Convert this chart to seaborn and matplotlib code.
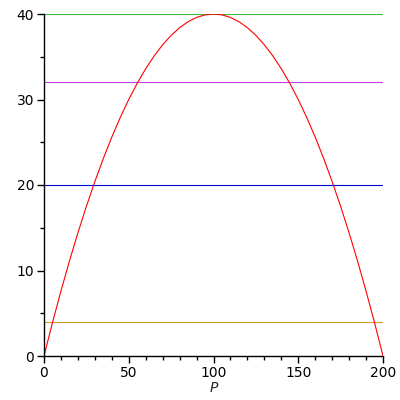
import matplotlib
matplotlib.use('Agg')
import matplotlib.pyplot as plt
import seaborn as sns
import pandas as pd
from matplotlib.ticker import MultipleLocator

# curve values
p_vals = [0, 5, 10, 15, 20, 25, 30, 35, 40, 45, 50, 55, 60, 65, 70, 75, 80, 85, 90, 95, 100,
          105, 110, 115, 120, 125, 130, 135, 140, 145, 150, 155, 160, 165, 170, 175, 180, 185, 190, 195, 200]
y_vals = [0, 3.9, 7.6, 11.1, 14.4, 17.5, 20.4, 23.1, 25.6, 27.9, 30, 31.9, 33.6, 35.1, 36.4, 37.5, 38.4, 39.1, 39.6, 39.9, 40,
          39.9, 39.6, 39.1, 38.4, 37.5, 36.4, 35.1, 33.6, 31.9, 30, 27.9, 25.6, 23.1, 20.4, 17.5, 14.4, 11.1, 7.6, 3.9, 0]

# horizontal reference levels
levels = [40, 32, 20, 4]
level_colors = ['#3cb83c', '#c040e0', '#0000cc', '#d4a020']

sns.set_theme(style='white')
plt.rcParams['font.family'] = ['DejaVu Sans']

fig = plt.figure(figsize=(4, 4), dpi=100)
ax = fig.add_axes([0.11, 0.11, 0.8475, 0.855])

for lv, col in zip(levels, level_colors):
    ax.axhline(lv, color=col, lw=0.8)

df = pd.DataFrame({'P': p_vals, 'y': y_vals})
sns.lineplot(data=df, x='P', y='y', color='#ff0000', lw=0.8, ax=ax, sort=False)

ax.set_xlim(0, 200)
ax.set_ylim(0, 40)
ax.xaxis.set_major_locator(MultipleLocator(50))
ax.xaxis.set_minor_locator(MultipleLocator(10))
ax.yaxis.set_major_locator(MultipleLocator(10))
ax.yaxis.set_minor_locator(MultipleLocator(5))

for s in ['top', 'right']:
    ax.spines[s].set_visible(False)
for s in ['left', 'bottom']:
    ax.spines[s].set_color('black')
    ax.spines[s].set_linewidth(1.0)

ax.tick_params(which='both', direction='out', color='black', width=1, labelsize=10, labelcolor='black')
ax.tick_params(which='major', length=5, pad=2)
ax.tick_params(which='minor', length=3)
ax.tick_params(axis='x', which='both', bottom=True)
ax.tick_params(axis='y', which='both', left=True)

ax.set_xlabel('P', fontsize=10, style='italic', labelpad=1)
ax.set_ylabel('')

fig.savefig('out.png', dpi=100)
